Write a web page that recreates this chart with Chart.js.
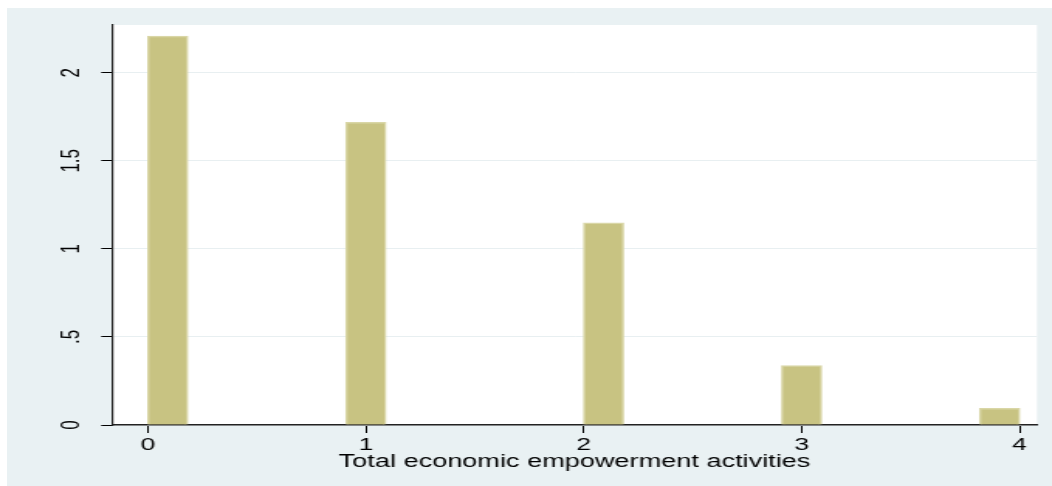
<!DOCTYPE html>
<html>
<head>
<meta charset="utf-8">
<script src="https://cdn.jsdelivr.net/npm/chart.js@4/dist/chart.umd.min.js"></script>
<style>
  html, body { margin: 0; padding: 0; width: 1052px; height: 486px; overflow: hidden; background: #ffffff; }
  #bg { position: absolute; left: 7px; top: 8px; right: 0; bottom: 0; background: #e9f1f3; }
  /* the reference is stretched sideways, so the chart is drawn narrow and scaled out */
  #wrap { position: absolute; left: 0; top: 0; width: 679px; height: 486px; transform: scaleX(1.5493); transform-origin: 0 0; }
</style>
</head>
<body>
<div id="bg"></div>
<div id="wrap"><canvas id="hist" width="679" height="486"></canvas></div>
<script>
// histogram bins (centre of each non-empty bin) and their density
const binCenters = [0.0909, 1.0, 2.0909, 3.0, 3.9091];
const densities = [2.208, 1.718, 1.148, 0.337, 0.095];

const xTickValues = [0, 1, 2, 3, 4];
const yTickValues = [0, 0.5, 1, 1.5, 2];
const yTickLabels = ['0', '.5', '1', '1.5', '2'];
const xTitle = 'Total economic empowerment activities';

const plotBackground = {
    id: 'plotBackground',
    beforeDraw(chart) {
        const { ctx, chartArea } = chart;
        ctx.save();
        ctx.fillStyle = '#ffffff';
        ctx.fillRect(chartArea.left, chartArea.top, chartArea.right - chartArea.left, chartArea.bottom - chartArea.top);
        ctx.restore();
    }
};

const ctx = document.getElementById('hist').getContext('2d');
new Chart(ctx, {
    type: 'bar',
    data: {
        datasets: [
            {
                data: binCenters.map((x, i) => ({ x: x, y: densities[i] })),
                backgroundColor: '#c8c382',
                borderColor: '#d9d6a6',
                borderWidth: 1.5,
                borderSkipped: 'bottom',
                barThickness: 26,
            },
        ],
    },
    options: {
        responsive: false,
        devicePixelRatio: 1,
        animation: false,
        layout: {
            padding: { top: 25, right: 9.7, bottom: 0, left: 0 },
        },
        plugins: {
            legend: { display: false },
            tooltip: { enabled: false },
        },
        scales: {
            x: {
                type: 'linear',
                min: -0.165,
                max: 4.08,
                offset: false,
                afterBuildTicks: (scale) => {
                    scale.ticks = xTickValues.map((v) => ({ value: v }));
                },
                afterFit: (scale) => {
                    scale.height = 61;
                },
                grid: {
                    offset: false,
                    drawOnChartArea: false,
                    drawTicks: true,
                    tickLength: 8,
                    tickColor: '#000000',
                    tickWidth: 1,
                },
                border: { color: '#222222', width: 1.5 },
                ticks: {
                    color: '#000000',
                    padding: 2,
                    maxRotation: 0,
                    font: { family: 'Liberation Sans, Arial, sans-serif', size: 17 },
                    callback: (value) => String(value),
                },
                title: {
                    display: true,
                    text: xTitle,
                    color: '#000000',
                    padding: { top: 0, bottom: 13 },
                    font: { family: 'Liberation Sans, Arial, sans-serif', size: 17.5 },
                },
            },
            y: {
                min: 0,
                max: 2.271,
                afterBuildTicks: (scale) => {
                    scale.ticks = yTickValues.map((v) => ({ value: v }));
                },
                afterFit: (scale) => {
                    scale.width = 72.3;
                },
                grid: {
                    color: '#e8eff1',
                    lineWidth: 1,
                    drawTicks: true,
                    tickLength: 7,
                    tickColor: '#000000',
                    tickWidth: 1,
                },
                border: { color: '#222222', width: 1.2 },
                ticks: {
                    color: '#000000',
                    padding: 7,
                    minRotation: 90,
                    maxRotation: 90,
                    crossAlign: 'center',
                    font: { family: 'Liberation Sans, Arial, sans-serif', size: 17 },
                    callback: (value) => {
                        const i = yTickValues.indexOf(value);
                        return i >= 0 ? yTickLabels[i] : '';
                    },
                },
            },
        },
    },
    plugins: [plotBackground],
});
</script>
</body>
</html>
